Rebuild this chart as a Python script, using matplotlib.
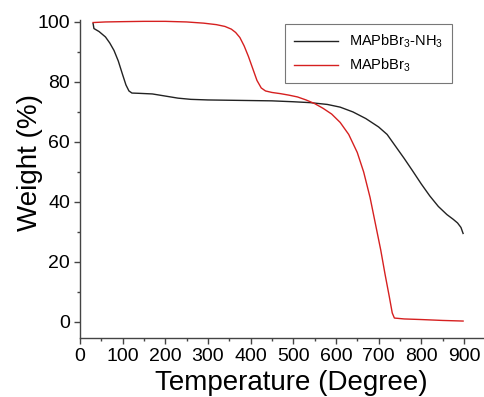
import matplotlib
matplotlib.use("Agg")
import matplotlib.pyplot as plt
from matplotlib.ticker import MultipleLocator

plt.rcParams["font.family"] = ["Liberation Sans", "DejaVu Sans"]
plt.rcParams["mathtext.fontset"] = "custom"
plt.rcParams["mathtext.rm"] = "Liberation Sans"
plt.rcParams["mathtext.it"] = "Liberation Sans:italic"

# TGA curves
temp_nh3 = [31, 33, 45, 60, 70, 80, 90, 100, 108, 115, 122, 140, 170, 200,
            230, 260, 300, 350, 400, 450, 500, 540, 580, 610, 640, 670, 700,
            720, 740, 760, 780, 800, 820, 840, 860, 875, 885, 893, 898]
wt_nh3 = [99.5, 97.8, 96.8, 95, 93, 90.5, 87, 82.5, 79, 77, 76.3, 76.2, 76,
          75.3, 74.6, 74.2, 74, 73.9, 73.8, 73.7, 73.4, 73.1, 72.5, 71.6, 70,
          67.8, 65, 62.5, 58.5, 54.5, 50.3, 46, 42, 38.5, 35.8, 34.2, 33,
          31.5, 29.5]

temp_pure = [31, 60, 100, 150, 200, 250, 290, 320, 340, 355, 365, 375, 385,
             395, 405, 415, 425, 435, 450, 470, 490, 510, 530, 550, 570, 590,
             610, 630, 650, 665, 680, 695, 705, 715, 725, 732, 737, 760, 800,
             850, 898]
wt_pure = [99.8, 100, 100.1, 100.2, 100.2, 100, 99.6, 99.1, 98.5, 97.6, 96.5,
           94.8, 92, 88.5, 84.5, 80.5, 78, 77, 76.5, 76.1, 75.6, 75, 74, 72.8,
           71.2, 69.3, 66.5, 62.5, 56.5, 50, 41.5, 31, 24, 16, 8.5, 3, 1.3,
           1.0, 0.8, 0.5, 0.3]

labels = [r"MAPbBr$_3$-NH$_3$", r"MAPbBr$_3$"]

fig = plt.figure(figsize=(4.84, 3.97), dpi=100)
ax = fig.add_axes([0.165, 0.149, 0.835, 0.801])

ax.plot(temp_nh3, wt_nh3, color="#222222", lw=1.0, label=labels[0])
ax.plot(temp_pure, wt_pure, color="#d62020", lw=1.0, label=labels[1])

ax.set_xlim(0, 947)
ax.set_ylim(-5.3, 100.7)
ax.xaxis.set_major_locator(MultipleLocator(100))
ax.xaxis.set_minor_locator(MultipleLocator(50))
ax.yaxis.set_major_locator(MultipleLocator(20))
ax.yaxis.set_minor_locator(MultipleLocator(10))

for side in ("top", "right"):
    ax.spines[side].set_visible(False)
for side in ("left", "bottom"):
    ax.spines[side].set_color("#444444")
    ax.spines[side].set_linewidth(1.0)

ax.tick_params(which="major", direction="out", length=4, width=1,
               color="#444444", labelsize=14, pad=3)
ax.tick_params(which="minor", direction="out", length=2.5, width=1,
               color="#444444")

ax.set_xlabel("Temperature (Degree)", fontsize=20)
ax.set_ylabel("Weight (%)", fontsize=20)
ax.xaxis.set_label_coords(0.522, -0.10)
ax.yaxis.set_label_coords(-0.092, 0.55)

leg = ax.legend(loc="upper right", bbox_to_anchor=(0.921, 0.987),
                borderaxespad=0, fontsize=10.5, frameon=True, fancybox=False,
                handlelength=3.0, borderpad=0.6, labelspacing=0.45)
leg.get_frame().set_edgecolor("#555555")
leg.get_frame().set_linewidth(0.8)

fig.savefig("out.png", dpi=100)
